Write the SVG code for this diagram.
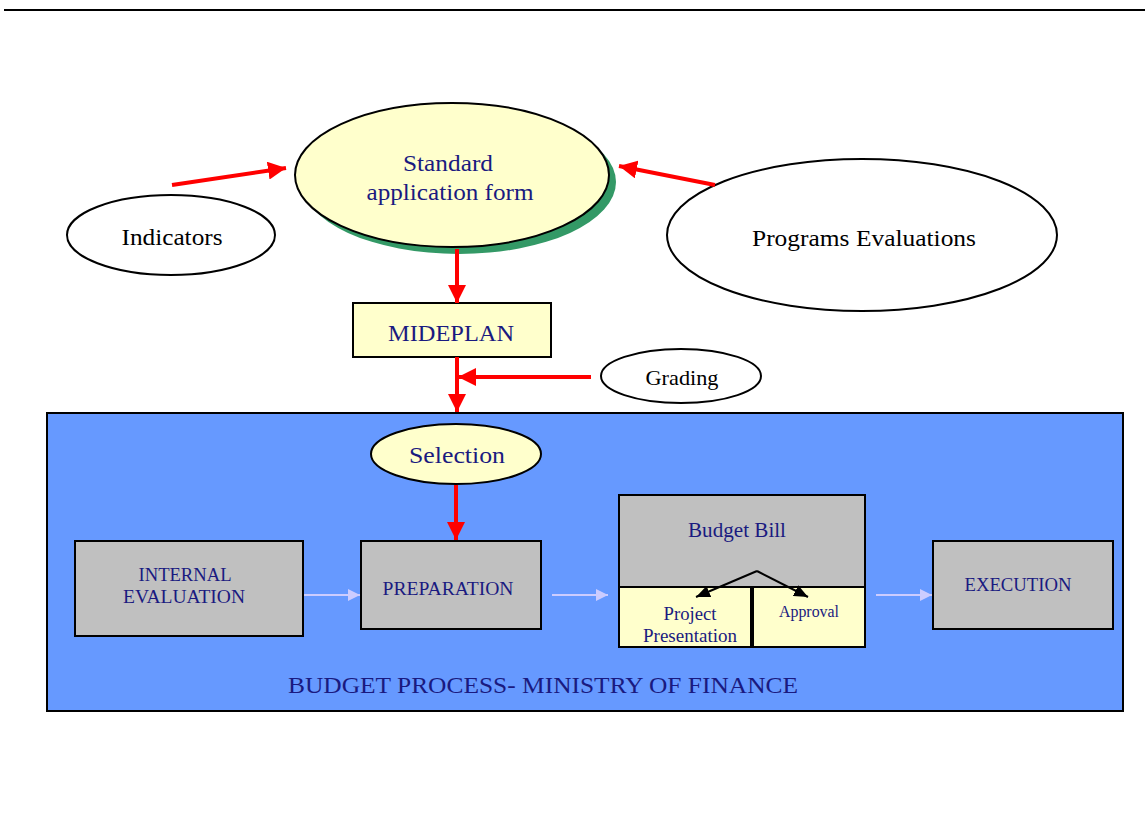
<svg xmlns="http://www.w3.org/2000/svg" width="1145" height="827" viewBox="0 0 1145 827">
<defs>
<style>
.t{font-family:"Liberation Serif","Times New Roman",serif;text-anchor:middle}
.navy{fill:#1a1a80}
.blk{fill:#000}
.red{stroke:#ff0000;stroke-width:4;fill:none}
.lite{stroke:#ccccff;stroke-width:2;fill:none}
.box{stroke:#000;stroke-width:2}
</style>
<marker id="ra" viewBox="0 0 18 18" refX="18" refY="9" markerWidth="18" markerHeight="18" markerUnits="userSpaceOnUse" orient="auto"><path d="M0,0 L18,9 L0,18 z" fill="#ff0000"/></marker>
<marker id="la" viewBox="0 0 12 12" refX="12" refY="6" markerWidth="12" markerHeight="12" markerUnits="userSpaceOnUse" orient="auto"><path d="M0,0 L12,6 L0,12 z" fill="#ccccff"/></marker>
<marker id="ba" viewBox="0 0 14 12" refX="14" refY="6" markerWidth="14" markerHeight="12" markerUnits="userSpaceOnUse" orient="auto"><path d="M0,0 L14,6 L0,12 z" fill="#000"/></marker>
</defs>
<rect width="1145" height="827" fill="#fff"/>
<line x1="4" y1="10" x2="1145" y2="10" stroke="#000" stroke-width="2"/>

<g id="budget-process">
<rect x="47" y="413" width="1076" height="298" fill="#6699ff" class="box"/>
<text class="t navy" x="543" y="693" font-size="24" textLength="510" lengthAdjust="spacingAndGlyphs">BUDGET PROCESS- MINISTRY OF FINANCE</text>
</g>

<g id="standard-form">
<ellipse cx="459" cy="182" rx="157" ry="72" fill="#339966"/>
<ellipse cx="452" cy="175" rx="157" ry="72" fill="#ffffcc" class="box"/>
<text class="t navy" x="448" y="171" font-size="24" textLength="90" lengthAdjust="spacingAndGlyphs">Standard</text>
<text class="t navy" x="450" y="200" font-size="24" textLength="167" lengthAdjust="spacingAndGlyphs">application form</text>
</g>

<g id="indicators">
<ellipse cx="171" cy="235" rx="104" ry="40" fill="#fff" class="box"/>
<text class="t blk" x="172" y="245" font-size="23" textLength="101" lengthAdjust="spacingAndGlyphs">Indicators</text>
</g>

<g id="programs-evaluations">
<ellipse cx="862" cy="235" rx="195" ry="76" fill="#fff" class="box"/>
<text class="t blk" x="864" y="246" font-size="24" textLength="224" lengthAdjust="spacingAndGlyphs">Programs Evaluations</text>
</g>

<g id="mideplan">
<rect x="353" y="303" width="198" height="54" fill="#ffffcc" class="box"/>
<text class="t navy" x="451" y="341" font-size="24" textLength="126" lengthAdjust="spacingAndGlyphs">MIDEPLAN</text>
</g>

<g id="grading">
<ellipse cx="681" cy="376" rx="80" ry="27" fill="#fff" class="box"/>
<text class="t blk" x="682" y="385" font-size="21" textLength="73" lengthAdjust="spacingAndGlyphs">Grading</text>
</g>

<g id="selection">
<ellipse cx="456" cy="454" rx="85" ry="30" fill="#ffffcc" class="box"/>
<text class="t navy" x="457" y="463" font-size="24" textLength="96" lengthAdjust="spacingAndGlyphs">Selection</text>
</g>

<g id="internal-evaluation">
<rect x="75" y="541" width="228" height="95" fill="#c0c0c0" class="box"/>
<text class="t navy" x="185" y="581" font-size="18" textLength="93" lengthAdjust="spacingAndGlyphs">INTERNAL</text>
<text class="t navy" x="184" y="603" font-size="18" textLength="122" lengthAdjust="spacingAndGlyphs">EVALUATION</text>
</g>

<g id="preparation">
<rect x="361" y="541" width="180" height="88" fill="#c0c0c0" class="box"/>
<text class="t navy" x="448" y="595" font-size="18.5" textLength="131" lengthAdjust="spacingAndGlyphs">PREPARATION</text>
</g>

<g id="budget-bill">
<rect x="619" y="495" width="246" height="92" fill="#c0c0c0" class="box"/>
<rect x="619" y="587" width="133" height="60" fill="#ffffcc" class="box"/>
<rect x="752" y="587" width="113" height="60" fill="#ffffcc" class="box"/>
<line x1="752" y1="587" x2="752" y2="647" stroke="#000" stroke-width="4"/>
<text class="t navy" x="737" y="537" font-size="21" textLength="98" lengthAdjust="spacingAndGlyphs">Budget Bill</text>
<text class="t navy" x="690" y="620" font-size="18" textLength="53" lengthAdjust="spacingAndGlyphs">Project</text>
<text class="t navy" x="690" y="642" font-size="18" textLength="94" lengthAdjust="spacingAndGlyphs">Presentation</text>
<text class="t navy" x="809" y="617" font-size="16" textLength="60" lengthAdjust="spacingAndGlyphs">Approval</text>
</g>

<g id="execution">
<rect x="933" y="541" width="180" height="88" fill="#c0c0c0" class="box"/>
<text class="t navy" x="1018" y="591" font-size="18.5" textLength="107" lengthAdjust="spacingAndGlyphs">EXECUTION</text>
</g>

<g id="connectors">
<line x1="172" y1="185" x2="286" y2="168" class="red" marker-end="url(#ra)"/>
<line x1="715" y1="185" x2="619" y2="166" class="red" marker-end="url(#ra)"/>
<line x1="457" y1="249" x2="457" y2="303" class="red" marker-end="url(#ra)"/>
<line x1="457" y1="357" x2="457" y2="412" class="red" marker-end="url(#ra)"/>
<line x1="591" y1="377" x2="458" y2="377" class="red" marker-end="url(#ra)"/>
<line x1="456" y1="485" x2="456" y2="540" class="red" marker-end="url(#ra)"/>
<line x1="304" y1="595" x2="360" y2="595" class="lite" marker-end="url(#la)"/>
<line x1="552" y1="595" x2="608" y2="595" class="lite" marker-end="url(#la)"/>
<line x1="876" y1="595" x2="932" y2="595" class="lite" marker-end="url(#la)"/>
<line x1="757" y1="571" x2="696" y2="597" stroke="#000" stroke-width="2" marker-end="url(#ba)"/>
<line x1="757" y1="571" x2="808" y2="597" stroke="#000" stroke-width="2" marker-end="url(#ba)"/>
</g>
</svg>
